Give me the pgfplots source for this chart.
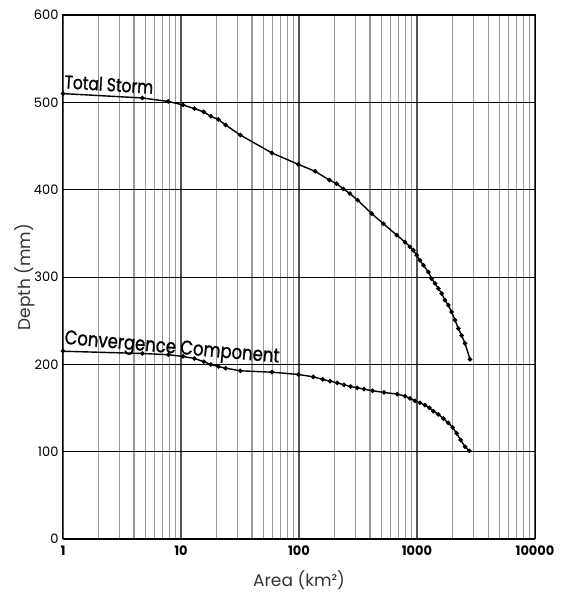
\documentclass[border=0pt]{standalone}
\usepackage{fontspec}
\setmainfont{Poppins}
\newfontfamily\labelfont[FakeBold=1.2]{Poppins}
\usepackage{pgfplots}
\pgfplotsset{compat=1.18}
\begin{document}
\begin{tikzpicture}[x=1pt,y=1pt]
\path[use as bounding box] (0,0) rectangle (562,599);
\begin{axis}[
  at={(63pt,60pt)}, anchor=south west,
  scale only axis, width=472pt, height=524pt,
  xmode=log, xmin=1, xmax=10000, ymin=0, ymax=600,
  xtick={1,10,100,1000,10000},
  xticklabels={\textbf{1},\textbf{10},\textbf{100},\textbf{1000},\textbf{10000}},
  ytick={0,100,200,300,400,500,600},
  /pgf/number format/assume math mode=true,
  major tick length=0pt, minor tick length=0pt,
  xminorgrids, xmajorgrids, ymajorgrids,
  minor x grid style={black!40, line width=1.1pt},
  major x grid style={black!68, line width=1.2pt},
  major y grid style={black, line width=0.9pt},
  axis line style={black, line width=1pt},
  tick label style={font=\fontsize{13}{14}\selectfont},
  xticklabel style={yshift=-3pt},
  yticklabel style={xshift=-1pt},
  xlabel={Area (km²)}, ylabel={Depth (mm)},
  label style={font=\fontsize{17}{18}\selectfont, text=black!80},
  xlabel style={at={(axis description cs:0.5,-0.078)}, anchor=center},
  ylabel style={at={(axis description cs:-0.0805,0.5)}, anchor=center},
  clip=false,
]
\addplot[black, line width=1.4pt, mark=*, mark size=1.5pt, mark options={solid}] coordinates {
(1,510) (4.7,505) (7.8,501) (10.4,497) (13,492.8) (15.6,489) (17.9,484) (20.7,480.5) (23.9,474)
(31.8,462.6) (59,442) (98.6,429) (137,421) (181,411) (208,407) (237,401) (270,395.5) (314,388)
(413,372.6) (519,361) (673,348) (791,340) (873,334.5) (931,330.7) (994,325) (1060,319) (1132,313.5)
(1248,305.8) (1332,298) (1421,292.6) (1517,286.8) (1619,281) (1727,273.5) (1842,267.7) (1966,260)
(2100,250.6) (2240,241) (2392,233) (2553,224) (2814,205.6)
};
\addplot[black, line width=1.4pt, mark=*, mark size=1.5pt, mark options={solid}] coordinates {
(1,215) (4.7,212.4) (7.8,211) (10.4,209) (13,206.7) (15.6,203) (17.9,199.8) (20.7,197.5) (23.9,195.6)
(31.8,192.6) (59,191) (98.6,188.4) (132,185.7) (159,182.7) (183,180.8) (211,178.8) (241,176.5)
(274,174.7) (312,173.1) (356,171.6) (421,169.7) (525,167.8) (681,165.9) (791,163.6) (873,161)
(961,158.2) (1060,156) (1169,153.3) (1272,150.2) (1374,146.5) (1517,142.7) (1672,138) (1842,133)
(2004,127.8) (2167,121) (2344,113.3) (2553,105.6) (2774,101)
};
\node[anchor=base west, rotate=-3.5, yscale=1.2, font=\labelfont\fontsize{15.5}{17}\selectfont, inner sep=0pt] at (axis cs:1.02,516) {Total Storm};
\node[anchor=base west, rotate=-5, yscale=1.2, font=\labelfont\fontsize{16.5}{18}\selectfont, inner sep=0pt] at (axis cs:1.02,223.5) {Convergence Component};
\end{axis}
\end{tikzpicture}
\end{document}
